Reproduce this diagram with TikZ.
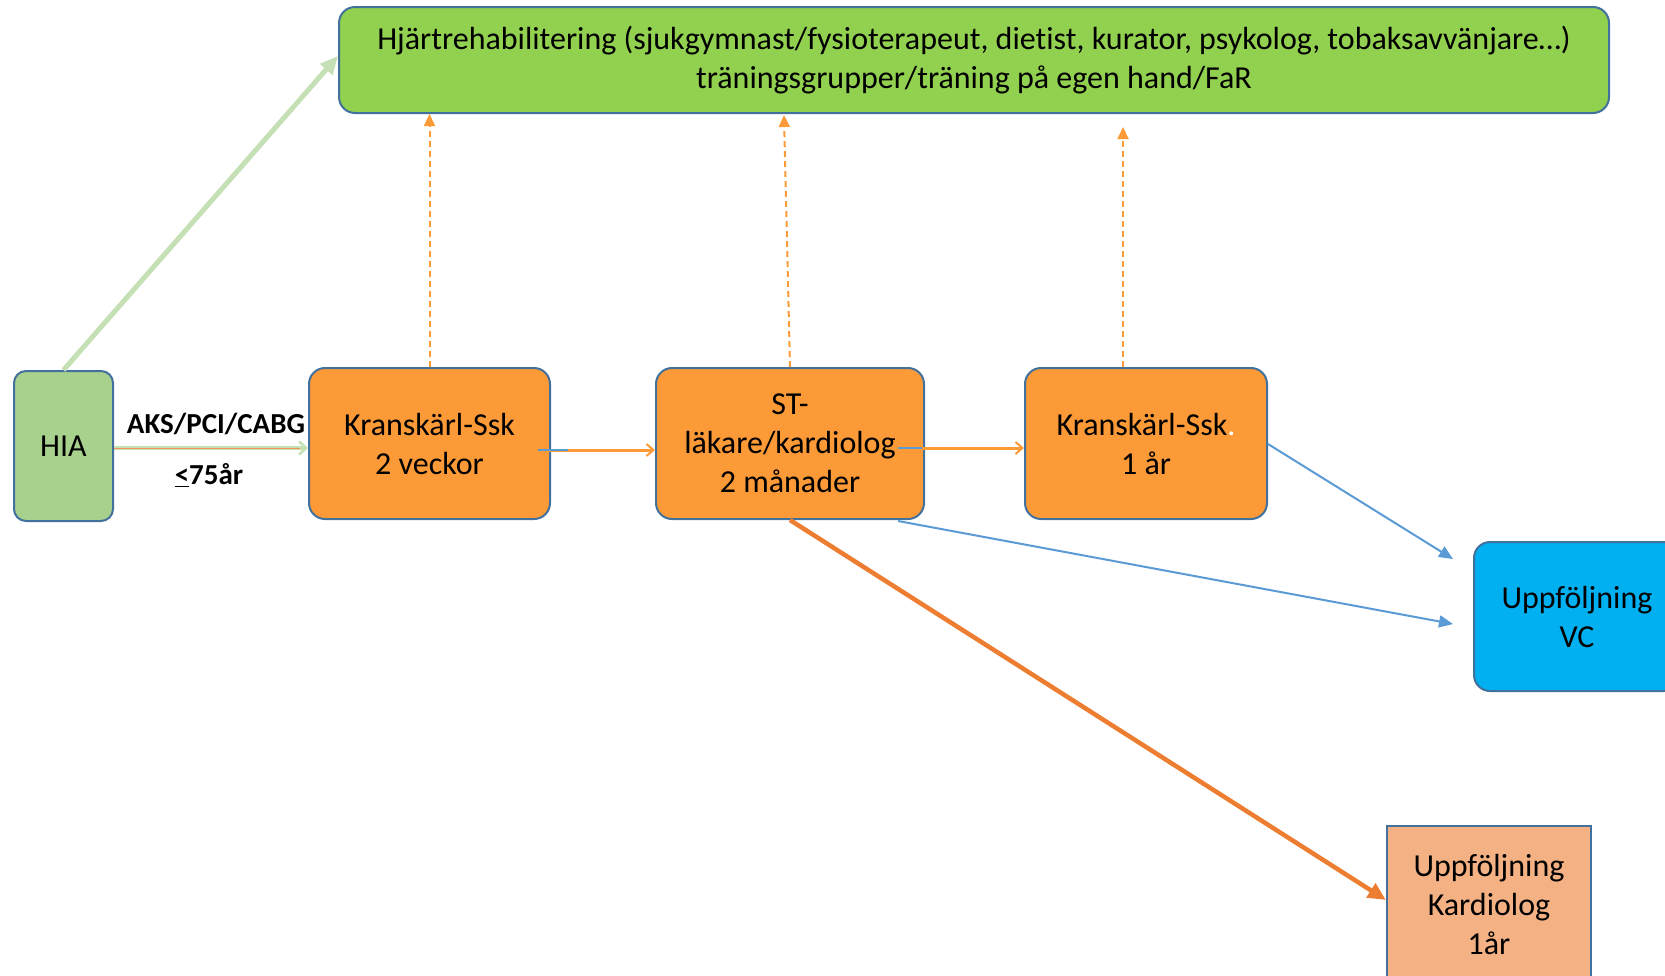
\documentclass[tikz,border=0pt]{standalone}
\usepackage{fontspec}
\setmainfont{Carlito}[Ligatures=NoCommon]
\usetikzlibrary{arrows.meta}
\definecolor{topgreen}{HTML}{92D050}
\definecolor{hiagreen}{HTML}{A9D18E}
\definecolor{boxorange}{HTML}{FD9A38}
\definecolor{bordc}{HTML}{41719C}
\definecolor{vcblue}{HTML}{00B0F0}
\definecolor{kdpeach}{HTML}{F4B183}
\definecolor{darkorange}{HTML}{ED7D31}
\definecolor{arrblue}{HTML}{5B9BD5}
\definecolor{lightgreen}{HTML}{C5E0B4}
\begin{document}
\begin{tikzpicture}[x=1pt,y=-1pt,
  box/.style={draw=bordc, line width=2pt, rounded corners=16pt, align=center,
    font=\fontsize{32}{39}\selectfont, inner sep=0pt},
  bluearr/.style={draw=arrblue, line width=2pt, -{Triangle[length=14pt,width=12pt]}},
  dasharr/.style={draw=boxorange, line width=2pt, dash pattern=on 6pt off 4pt, -{Triangle[length=12pt,width=11pt]}},
  flowarr/.style={draw=boxorange, line width=3pt, -{Straight Barb[length=7pt,width=12pt,line width=2pt]}},
  lbl/.style={font=\fontsize{29}{34}\selectfont\bfseries, inner sep=0pt}
]
\useasboundingbox (0,0) rectangle (1665,975);

\node[box, fill=topgreen, minimum width=1270pt, minimum height=106pt] (top) at (974,60)
  {Hjärtrehabilitering (sjukgymnast/fysioterapeut, dietist, kurator, psykolog, tobaksavvänjare…)\\träningsgrupper/träning på egen hand/FaR};
\node[box, fill=hiagreen, rounded corners=12pt, minimum width=99pt, minimum height=150pt] (hia) at (63.5,446) {HIA};
\node[box, fill=boxorange, minimum width=241pt, minimum height=151pt] (k1) at (429.5,443.5) {Kranskärl-Ssk\\2 veckor};
\node[box, fill=boxorange, minimum width=268pt, minimum height=151pt] (st) at (790,443.5) {ST-\\läkare/kardiolog\\2 månader};
\node[box, fill=boxorange, minimum width=242pt, minimum height=151pt] (k2) at (1146,443.5) {Kranskärl-Ssk{\color{white}.}\\1 år};
\node[box, fill=vcblue, minimum width=206pt, minimum height=149pt] (vc) at (1577,616.5) {Uppföljning\\VC};
\node[box, fill=kdpeach, rounded corners=0pt, minimum width=204pt, minimum height=156pt] (kd) at (1489,904) {Uppföljning\\Kardiolog\\1år};

% labels
\node[lbl] (aks) at (216,424) {AKS/PCI/CABG};
\node[lbl] (age) at (209,475) {\underline{<}75år};

% green arrow HIA -> top
\draw[lightgreen, line width=5pt, -{Triangle[length=18pt,width=16pt]}] (hia.north) -- ([yshift=4pt]top.west);

% HIA -> K1
\draw[lightgreen, line width=4.5pt, -{Straight Barb[length=7pt,width=13pt,line width=2.5pt]}] (hia.east |- 0,448) -- (k1.west |- 0,448);
\draw[darkorange!80, line width=1.2pt] ([yshift=-0.8pt]hia.east |- 0,448) -- ([xshift=-8pt,yshift=-0.8pt]k1.west |- 0,448);

% K1 -> ST
\coordinate (k1s) at (538,450);
\draw[flowarr] (k1s) -- (st.west |- k1s);
\draw[arrblue, line width=1.5pt] (k1s) -- ++(30,0);
% ST -> K2
\coordinate (sts) at (898,448);
\draw[flowarr] (sts) -- (k2.west |- sts);
\draw[arrblue, line width=1.5pt] (sts) -- ++(24,0);

% dashed arrows up
\draw[dasharr] (k1.north) -- (k1.north |- top.south);
\draw[dasharr] (st.north) -- (784,115);
\coordinate (k2up) at (1123,127);
\draw[dasharr] (k2.north -| k2up) -- (k2up);

% blue arrows
\coordinate (vc1) at (1453,559);
\coordinate (vc2) at (1453,624);
\coordinate (stbr) at (898,521);
\draw[bluearr] (k2.east |- 0,444) -- (vc1);
\draw[bluearr] (stbr) -- (vc2);

% thick orange arrow ST -> Kardiolog
\draw[darkorange, line width=4.5pt, -{Triangle[length=18pt,width=16pt]}] (st.south) -- (kd.west |- 0,900);
\end{tikzpicture}
\end{document}
